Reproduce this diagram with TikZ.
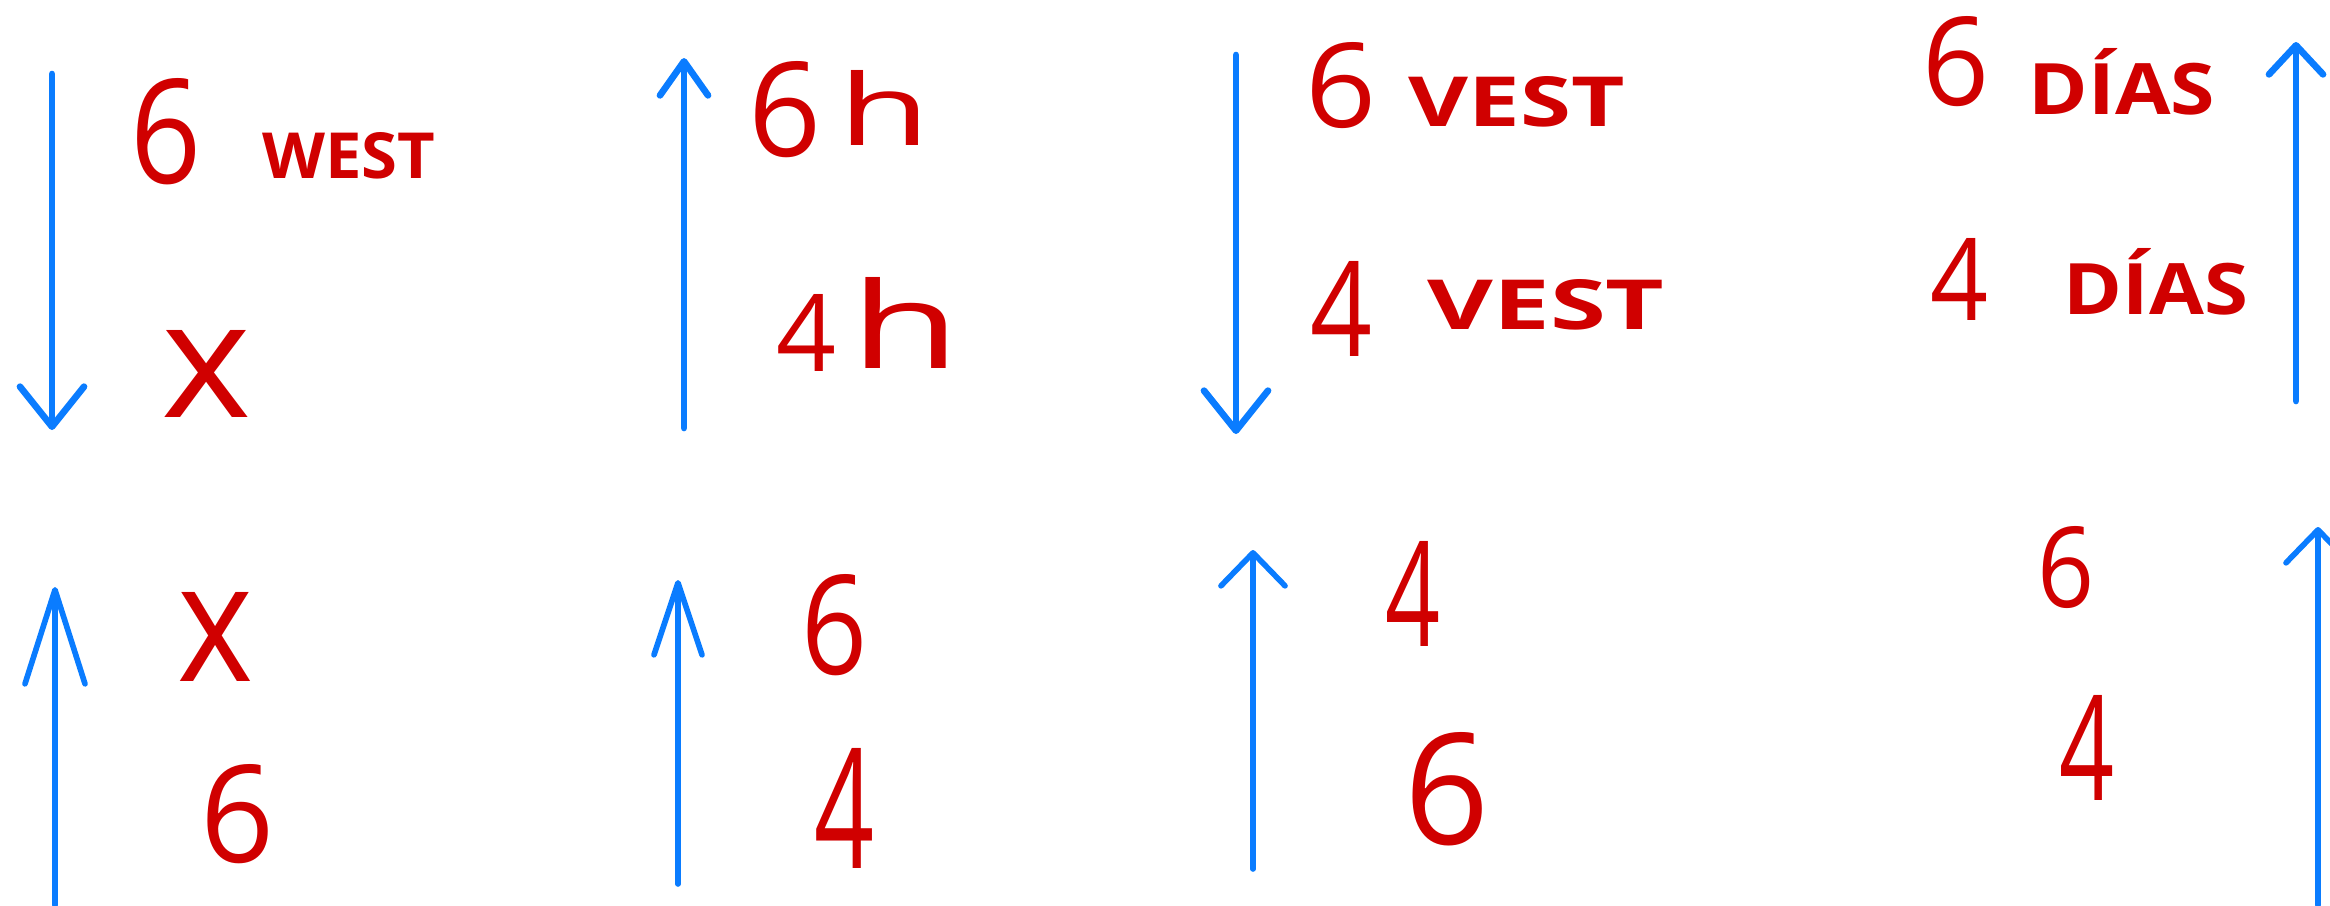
\documentclass[tikz,border=0pt]{standalone}
\usepackage{fontspec}
\setmainfont{Open Sans}
\usetikzlibrary{arrows.meta}
\definecolor{hblue}{RGB}{10,124,255}
\definecolor{hred}{RGB}{208,0,0}
\newcommand{\rb}[3]{\resizebox{#1cm}{#2cm}{#3}}
\tikzset{
  glyph/.style={font=\fontsize{30}{30}\selectfont, text=hred, inner sep=0pt},
  word/.style={font=\fontsize{18}{18}\selectfont\bfseries, text=hred, inner sep=0pt},
  bluearrow/.style={draw=hblue, line width=1.9pt, line cap=round, line join=round},
  tipA/.style={-{Straight Barb[length=4mm, width=6.4mm, line cap=round, line join=round]}},
  tipB/.style={-{Straight Barb[length=3.4mm, width=4.8mm, line cap=round, line join=round]}},
  tipE/.style={-{Straight Barb[length=2.9mm, width=5.4mm, line cap=round, line join=round]}},
  tipC/.style={-{Straight Barb[length=9.4mm, width=6mm, line cap=round, line join=round]}},
  tipF/.style={-{Straight Barb[length=7.2mm, width=4.8mm, line cap=round, line join=round]}},
  tipD/.style={-{Straight Barb[length=3.3mm, width=6.4mm, line cap=round, line join=round]}},
}
\begin{document}
\begin{tikzpicture}[x=0.01cm, y=-0.01cm]
\useasboundingbox (0,0) rectangle (2330,905);
% ---------- top row ----------
\coordinate (a1s) at (52,74);   \coordinate (a1e) at (52,430);
\coordinate (a2s) at (684,428); \coordinate (a2e) at (684,58);
\coordinate (a3s) at (1236,55); \coordinate (a3e) at (1236,434);
\coordinate (a4s) at (2296,401); \coordinate (a4e) at (2296,42);
\draw[bluearrow, tipA] (a1s) -- (a1e);
\draw[bluearrow, tipB] (a2s) -- (a2e);
\draw[bluearrow, tipA] (a3s) -- (a3e);
\draw[bluearrow, tipE] (a4s) -- (a4e);

\node[glyph] (t1n) at (166,132) {\rb{0.71}{1.05}{6}};
\node[word]  (t1w) at (349,156) {\rb{1.73}{0.46}{WEST}};
\node[glyph] (t1x) at (207,374) {\rb{0.9}{0.87}{x}};

\node[glyph] (t2n) at (785,110) {\rb{0.73}{0.95}{6}};
\node[glyph] (t2h) at (885,108) {\rb{0.92}{0.75}{h}};
\node[glyph] (t2m) at (807,333) {\rb{0.6}{0.77}{4}};
\node[glyph] (t2k) at (906,323) {\rb{1.1}{0.91}{h}};

\node[glyph] (t3n) at (1341,86) {\rb{0.71}{0.85}{6}};
\node[word]  (t3w) at (1517,102) {\rb{2.16}{0.5}{VEST}};
\node[glyph] (t3m) at (1342,309) {\rb{0.62}{0.95}{4}};
\node[word]  (t3v) at (1546,305) {\rb{2.37}{0.5}{VEST}};

\node[glyph] (t4n) at (1956,62) {\rb{0.67}{0.89}{6}};
\node[word]  (t4w) at (2122,82) {\rb{1.86}{0.66}{DÍAS}};
\node[glyph] (t4m) at (1959,279) {\rb{0.58}{0.82}{4}};
\node[word]  (t4v) at (2156,282) {\rb{1.84}{0.66}{DÍAS}};

% ---------- bottom row ----------
\coordinate (b1s) at (55,905);  \coordinate (b1e) at (55,587);
\coordinate (b2s) at (678,884); \coordinate (b2e) at (678,580);
\coordinate (b3s) at (1253,869); \coordinate (b3e) at (1253,550);
\coordinate (b4s) at (2318,905); \coordinate (b4e) at (2318,527);
\draw[bluearrow, line width=1.6pt, tipC] (b1s) -- (b1e);
\draw[bluearrow, line width=1.6pt, tipF] (b2s) -- (b2e);
\draw[bluearrow, line width=1.6pt, tipD] (b3s) -- (b3e);
\draw[bluearrow, line width=1.6pt, tipD] (b4s) -- (b4e);

\node[glyph] (u1x) at (216,637) {\rb{0.76}{0.89}{x}};
\node[glyph] (u1n) at (238,814) {\rb{0.74}{0.98}{6}};
\node[glyph] (u2n) at (835,625) {\rb{0.66}{1.0}{6}};
\node[glyph] (u2m) at (845,808) {\rb{0.6}{1.2}{4}};
\node[glyph] (u3m) at (1413,594) {\rb{0.55}{1.05}{4}};
\node[glyph] (u3n) at (1447,789) {\rb{0.85}{1.12}{6}};
\node[glyph] (u4n) at (2066,568) {\rb{0.57}{0.81}{6}};
\node[glyph] (u4m) at (2087,748) {\rb{0.55}{1.05}{4}};
\end{tikzpicture}
\end{document}
